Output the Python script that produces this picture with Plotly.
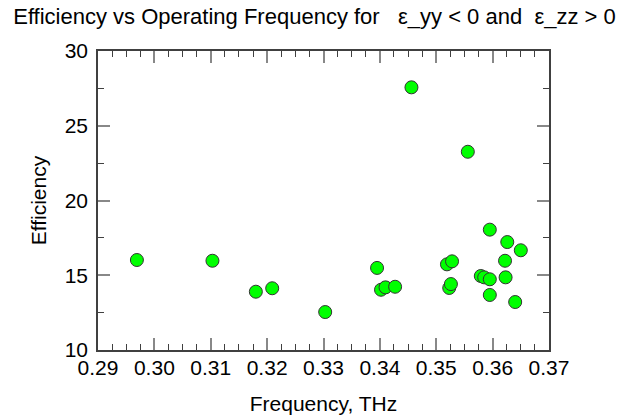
import plotly.graph_objects as go

frequency = [0.2969, 0.3103, 0.3180, 0.3209, 0.3303,
             0.3395, 0.3402, 0.3410, 0.3427, 0.3456,
             0.3519, 0.3523, 0.3526, 0.3528, 0.3556,
             0.3579, 0.3585, 0.3595, 0.3595, 0.3595,
             0.3622, 0.3623, 0.3626, 0.3640, 0.3650]
efficiency = [16.02, 15.97, 13.90, 14.13, 12.54,
              15.49, 14.03, 14.19, 14.23, 27.57,
              15.73, 14.15, 14.41, 15.93, 23.26,
              14.95, 14.86, 18.05, 14.73, 13.68,
              15.97, 14.86, 17.22, 13.21, 16.67]

x_ticks = [0.29, 0.30, 0.31, 0.32, 0.33, 0.34, 0.35, 0.36, 0.37]
x_ticklabels = ["0.29", "0.30", "0.31", "0.32", "0.33", "0.34", "0.35", "0.36", "0.37"]
y_ticks = [10, 15, 20, 25, 30]

FONT = "Liberation Sans, Arial, sans-serif"

fig = go.Figure()
fig.add_trace(go.Scatter(
    x=frequency, y=efficiency, mode="markers",
    marker=dict(color="#00ff00", size=13, line=dict(color="#333333", width=1)),
    showlegend=False,
))

axis_common = dict(
    showgrid=False, zeroline=False, showline=True, linecolor="#404040", linewidth=1.5,
    mirror="ticks", ticks="inside", ticklen=12, tickcolor="#888888", tickwidth=1.5,
    tickfont=dict(family=FONT, size=21, color="black"), automargin=False,
)

fig.update_xaxes(
    range=[0.29, 0.37], tickvals=x_ticks, ticktext=x_ticklabels,
    minor=dict(ticks="inside", ticklen=6, dtick=0.0025, tickcolor="#404040", tickwidth=1),
    title=dict(text="Frequency, THz", font=dict(family=FONT, size=21, color="black"), standoff=18),
    ticklabelstandoff=-2,
    **axis_common,
)
fig.update_yaxes(
    range=[10, 30], tickvals=y_ticks,
    minor=dict(ticks="inside", ticklen=6, dtick=2.5, tickcolor="#404040", tickwidth=1),
    title=dict(text="Efficiency", font=dict(family=FONT, size=21, color="black"), standoff=12),
    ticklabelstandoff=4,
    **axis_common,
)

fig.update_layout(
    width=629, height=417,
    margin=dict(l=98, r=80, t=51, b=67),
    paper_bgcolor="white", plot_bgcolor="white",
    title=dict(text="Efficiency vs Operating Frequency for   \u03b5_yy < 0 and  \u03b5_zz > 0",
               font=dict(family=FONT, size=22, color="black"),
               x=0.5, xanchor="center", yref="container", y=0.962, yanchor="middle"),
)

fig.write_html("out.html", config={"displayModeBar": False},
               post_script="document.body.style.margin='0px';")
